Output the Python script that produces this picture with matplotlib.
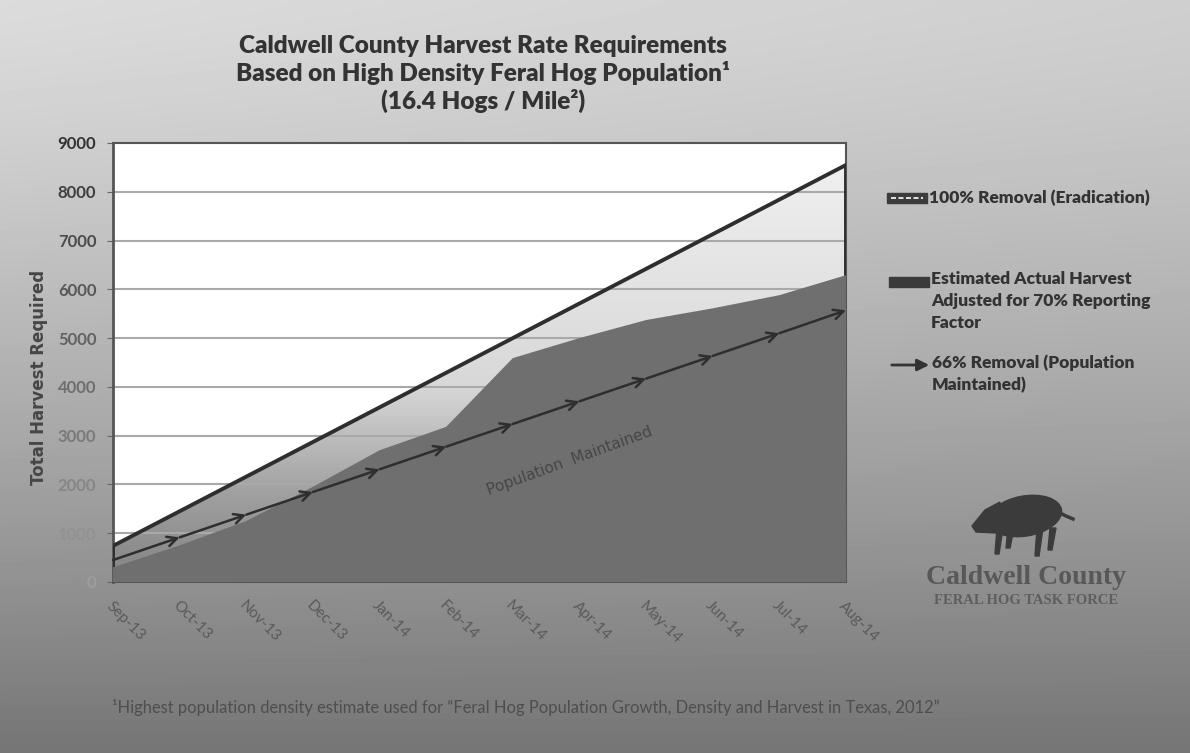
import numpy as np
import matplotlib
matplotlib.use("Agg")
import matplotlib.pyplot as plt
import matplotlib.patches as mpatches
from matplotlib.colors import LinearSegmentedColormap

# Datos
months = ["Sep-13", "Oct-13", "Nov-13", "Dec-13", "Jan-14", "Feb-14",
          "Mar-14", "Apr-14", "May-14", "Jun-14", "Jul-14", "Aug-14"]
removal_100 = [740, 1450, 2160, 2870, 3580, 4290, 5000, 5710, 6420, 7130, 7840, 8550]
actual_harvest = [300, 750, 1250, 1950, 2700, 3180, 4590, 5000, 5370, 5610, 5880, 6290]
removal_66 = [450, 915, 1380, 1845, 2310, 2775, 3240, 3705, 4170, 4635, 5100, 5570]
y_ticks = [0, 1000, 2000, 3000, 4000, 5000, 6000, 7000, 8000, 9000]

W, H = 1190, 753
fig = plt.figure(figsize=(W / 100, H / 100), dpi=100)

# Fondo en degradado (coordenadas en pixeles de la imagen)
bg = fig.add_axes([0, 0, 1, 1], zorder=0)
bg.set_xlim(0, W)
bg.set_ylim(H, 0)
bg.axis("off")
yy, xx = np.mgrid[0:1:200j, 0:1:200j]
shade = 0.86 - 0.40 * yy ** 1.25 - 0.05 * xx * (1 - yy)
bg.imshow(shade, extent=[0, W, H, 0], cmap="gray", vmin=0, vmax=1,
          aspect="auto", interpolation="bilinear")

# Titulo
bg.text(483, 74, "Caldwell County Harvest Rate Requirements\n"
        "Based on High Density Feral Hog Population¹\n(16.4 Hogs / Mile²)",
        ha="center", va="center", fontsize=17.5, fontweight="heavy",
        family="Lato", color="#333333", linespacing=1.2)

# Eje principal
ax = fig.add_axes([113 / W, 1 - 582 / H, (846 - 113) / W, (582 - 143) / H], zorder=2)
x = np.arange(len(months))
ax.set_facecolor("white")

# Area 100% con degradado
grad = np.linspace(0, 1, 256).reshape(-1, 1)
cmap = LinearSegmentedColormap.from_list(
    "g", [(0, "#838383"), (0.2, "#a0a0a0"), (0.45, "#d8d8d8"), (1, "#f2f2f2")])
im = ax.imshow(grad, extent=[0, 11, 0, 9000], origin="lower", aspect="auto",
               cmap=cmap, zorder=1)
poly = mpatches.Polygon(np.column_stack([np.r_[x, x[-1], 0], np.r_[removal_100, 0, 0]]),
                        closed=True, transform=ax.transData)
im.set_clip_path(poly)

# Lineas de cuadricula
for t in y_ticks[1:-1]:
    ax.axhline(t, color="#a9a9a9", lw=1.5, zorder=2)

# Contorno del area 100%
ax.fill_between(x, removal_100, facecolor="none", edgecolor="#2e2e2e", lw=2.8, zorder=3)

# Cosecha estimada real
ax.fill_between(x, actual_harvest, facecolor="#6f6f6f", edgecolor="none", zorder=4)

# Linea 66% con flechas
for i in range(1, len(x)):
    ax.annotate("", xy=(x[i], removal_66[i]), xytext=(x[i - 1], removal_66[i - 1]),
                arrowprops=dict(arrowstyle="->,head_length=0.7,head_width=0.35",
                                color="#2e2e2e", lw=1.8, shrinkA=0, shrinkB=0),
                zorder=5)

ax.text(6.85, 2480, "Population  Maintained", rotation=20, ha="center", va="center",
        fontsize=11, color="#464646", family="DejaVu Sans", zorder=6)

ax.set_xlim(0, 11)
ax.set_ylim(0, 9000)
ax.set_yticks(y_ticks)
ax.set_yticklabels([str(t) for t in y_ticks], fontsize=12, fontweight="bold", family="Lato")
tick_cols = plt.cm.gray(np.linspace(0.62, 0.2, len(y_ticks)))
for lab, c in zip(ax.get_yticklabels(), tick_cols):
    lab.set_color(c)
ax.tick_params(axis="y", length=4, color="#666666", pad=8)
ax.set_xticks(x)
ax.set_xticklabels(months, rotation=-45, ha="left", va="top", rotation_mode="anchor",
                   fontsize=11, family="Lato", color="#5a5a5a")
ax.tick_params(axis="x", length=0, pad=12)
for s in ax.spines.values():
    s.set_color("#555555")
    s.set_linewidth(1.5)
ax.spines["left"].set_linewidth(2)

ax.set_ylabel("Total Harvest Required", fontsize=12, fontweight="bold",
              family="DejaVu Sans", color="#464646")
ax.yaxis.set_label_coords(-0.088, 0.465)

# Leyenda
bg.add_patch(mpatches.Rectangle((887, 193), 40, 10, facecolor="#3c3c3c", edgecolor="#3c3c3c"))
bg.plot([891, 923], [198, 198], color="white", lw=1.2, ls=(0, (3, 1.5)))
bg.text(929, 198, "100% Removal (Eradication)", ha="left", va="center", fontsize=12.5,
        fontweight="heavy", family="Lato", color="#333333")
bg.add_patch(mpatches.Rectangle((889, 277), 40, 10, facecolor="#3a3a3a", edgecolor="#3a3a3a"))
bg.text(931, 271, "Estimated Actual Harvest\nAdjusted for 70% Reporting\nFactor",
        ha="left", va="top", fontsize=12.5, fontweight="heavy", family="Lato",
        color="#333333", linespacing=1.45)
bg.annotate("", xy=(932, 365), xytext=(889, 365),
            arrowprops=dict(arrowstyle="-|>,head_length=0.7,head_width=0.35",
                            color="#333333", lw=2))
bg.text(932, 354, "66% Removal (Population\nMaintained)", ha="left", va="top",
        fontsize=12.5, fontweight="heavy", family="Lato", color="#333333", linespacing=1.45)

# Logo
hog = "#3b3b3b"
bg.add_patch(mpatches.Ellipse((1025, 516), 74, 40, angle=-10, color=hog))
bg.add_patch(mpatches.Polygon([(1000, 502), (985, 510), (972, 526), (976, 532), (996, 533)],
                              closed=True, color=hog))
for lx, ly in [(997, 554), (1008, 548), (1037, 556), (1050, 550)]:
    bg.add_patch(mpatches.Polygon([(lx, 528), (lx + 6, 528), (lx + 2, ly), (lx - 2, ly)],
                                  closed=True, color=hog))
bg.plot([1058, 1066, 1073], [512, 516, 519], color=hog, lw=2.5)
bg.text(1026, 577, "Caldwell County", ha="center", va="center", fontsize=20,
        family="Liberation Serif", fontweight="bold", color="#585858")
bg.text(1026, 601, "FERAL HOG TASK FORCE", ha="center", va="center", fontsize=10.5,
        family="Liberation Serif", fontweight="bold", color="#5e5e5e")

# Nota al pie
bg.text(112, 708, "¹Highest population density estimate used for \u201cFeral Hog Population "
        "Growth, Density and Harvest in Texas, 2012\u201d", ha="left", va="center",
        fontsize=11.9, family="Lato", color="#4e4e4e")

plt.savefig("out.png", dpi=100)
plt.close()
